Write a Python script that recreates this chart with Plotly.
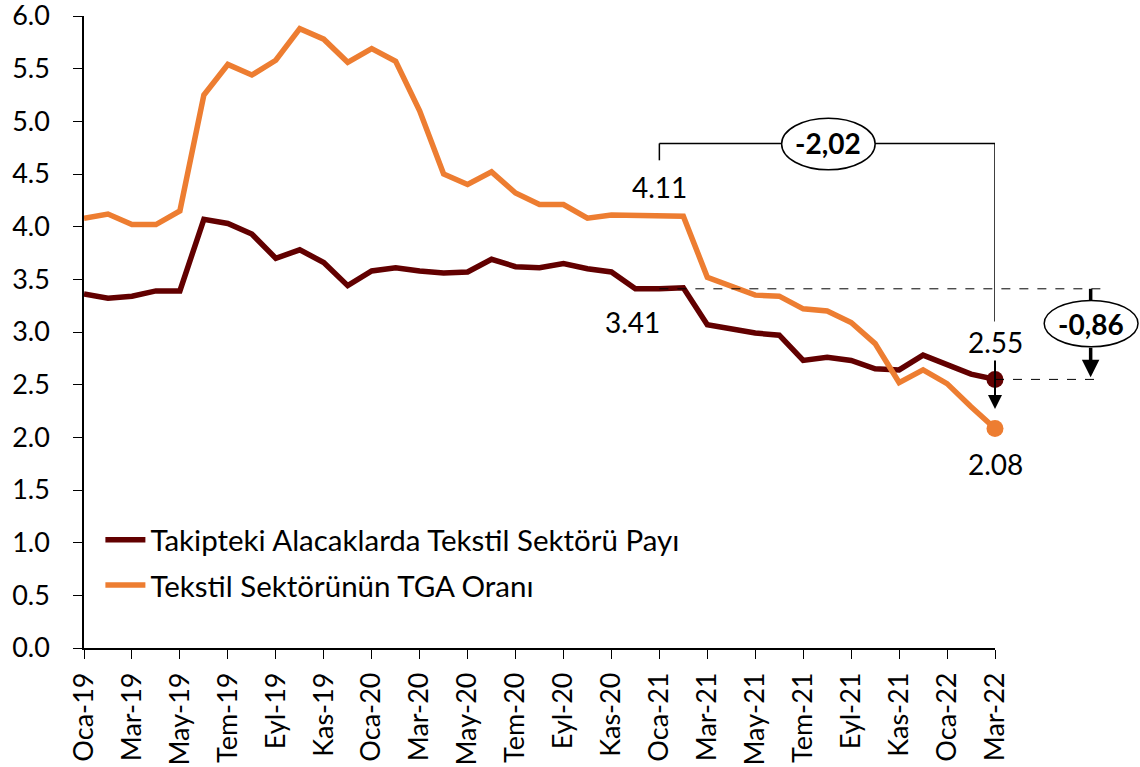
import plotly.graph_objects as go

months_tr = ["Oca", "Şub", "Mar", "Nis", "May", "Haz", "Tem", "Ağu", "Eyl", "Eki", "Kas", "Ara"]
categories = []
for yr in ["19", "20", "21", "22"]:
    for m in months_tr:
        categories.append(f"{m}-{yr}")
categories = categories[:39]  # Oca-19 .. Mar-22

takipteki_payi = [3.36, 3.32, 3.34, 3.39, 3.39, 4.07, 4.03, 3.93, 3.70, 3.78, 3.66, 3.44, 3.58, 3.61,
                  3.58, 3.56, 3.57, 3.69, 3.62, 3.61, 3.65, 3.60, 3.57, 3.41, 3.41, 3.42, 3.07, 3.03,
                  2.99, 2.97, 2.73, 2.76, 2.73, 2.65, 2.64, 2.78, 2.69, 2.60, 2.55]
tga_orani = [4.08, 4.12, 4.02, 4.02, 4.15, 5.25, 5.54, 5.44, 5.58, 5.88, 5.78, 5.56, 5.69, 5.57,
             5.10, 4.50, 4.40, 4.52, 4.32, 4.21, 4.21, 4.08, 4.11, 4.11, 4.106, 4.10, 3.52, 3.44,
             3.35, 3.34, 3.22, 3.20, 3.09, 2.89, 2.52, 2.64, 2.51, 2.29, 2.084]
tick_labels = categories[::2]
series_names = ["Takipteki Alacaklarda Tekstil Sektörü Payı", "Tekstil Sektörünün TGA Oranı"]

DARK = "#620000"
ORANGE = "#ED7D31"
FONT = "Lato"

fig = go.Figure()
fig.add_trace(go.Scatter(x=categories, y=takipteki_payi, mode="lines", name=series_names[0],
                         legendgroup="a", line=dict(color=DARK, width=5.5), cliponaxis=False))
fig.add_trace(go.Scatter(x=categories, y=tga_orani, mode="lines", name=series_names[1],
                         legendgroup="b", line=dict(color=ORANGE, width=5.5), cliponaxis=False))
# end markers
fig.add_trace(go.Scatter(x=[categories[-1]], y=[takipteki_payi[-1]], mode="markers",
                         marker=dict(color=DARK, size=17), showlegend=False, cliponaxis=False))
fig.add_trace(go.Scatter(x=[categories[-1]], y=[tga_orani[-1]], mode="markers",
                         marker=dict(color=ORANGE, size=17), showlegend=False, cliponaxis=False))

i_start = categories.index("Oca-21")
i_end = len(categories) - 1
x_start = categories[i_start]
x_end = categories[i_end]

shapes = []
line_k = dict(color="black", width=1.5)
# bracket for TGA change
shapes.append(dict(type="line", xref="x", yref="y", x0=i_start, x1=i_start, y0=4.63, y1=4.79, line=line_k))
shapes.append(dict(type="line", xref="x", yref="y", x0=i_start, x1=i_end, y0=4.79, y1=4.79, line=line_k))
shapes.append(dict(type="line", xref="x", yref="y", x0=i_end, x1=i_end, y0=4.79, y1=3.10, line=line_k))
shapes.append(dict(type="circle", xref="x", yref="y", x0=29.1, x1=33.0, y0=4.54, y1=5.03,
                   line=dict(color="black", width=1.5), fillcolor="white", layer="above"))
# dashed reference lines
xs_paper = i_start / i_end
shapes.append(dict(type="line", xref="paper", yref="y", x0=xs_paper, x1=1.117,
                   y0=takipteki_payi[i_start], y1=takipteki_payi[i_start],
                   line=dict(color="black", width=1, dash="dash")))
shapes.append(dict(type="line", xref="paper", yref="y", x0=1.0, x1=1.117,
                   y0=takipteki_payi[-1], y1=takipteki_payi[-1],
                   line=dict(color="black", width=1, dash="dash")))
# stub above the second ellipse
shapes.append(dict(type="line", xref="paper", yref="y", x0=1.105, x1=1.105, y0=3.41, y1=3.28,
                   line=dict(color="black", width=3.5)))
shapes.append(dict(type="circle", xref="paper", yref="y", x0=1.054, x1=1.157, y0=2.86, y1=3.30,
                   line=dict(color="black", width=1.5), fillcolor="white"))

annotations = []
lab_font = dict(family=FONT, size=28, color="black")
annotations.append(dict(x=x_start, y=tga_orani[i_start], text=f"{tga_orani[i_start]:.2f}",
                        showarrow=False, yshift=29, font=lab_font))
annotations.append(dict(x=x_start, y=takipteki_payi[i_start], text=f"{takipteki_payi[i_start]:.2f}",
                        showarrow=False, yshift=-33, xshift=-27, font=lab_font))
annotations.append(dict(x=x_end, y=takipteki_payi[-1], text=f"{takipteki_payi[-1]:.2f}",
                        showarrow=False, yshift=37, font=lab_font))
annotations.append(dict(x=x_end, y=tga_orani[-1], text=f"{tga_orani[-1]:.2f}",
                        showarrow=False, yshift=-36, font=lab_font))
# change labels
diff1 = tga_orani[-1] - tga_orani[i_start]
diff2 = takipteki_payi[-1] - takipteki_payi[i_start]
bold = dict(family=FONT, size=28, color="black")
annotations.append(dict(x=31.05, y=4.79, text="<b>" + f"{diff1:.2f}".replace(".", ",") + "</b>",
                        showarrow=False, font=bold, xanchor="center"))
annotations.append(dict(xref="paper", yref="y", x=1.1055, y=3.08, xanchor="center", yanchor="middle",
                        text="<b>" + f"{diff2:.2f}".replace(".", ",") + "</b>",
                        showarrow=False, font=bold))
# arrows
annotations.append(dict(x=x_end, y=2.27, ax=0, ay=-50, axref="pixel", ayref="pixel",
                        text="", showarrow=True, arrowhead=2, arrowsize=1.4, arrowwidth=2,
                        arrowcolor="black"))
annotations.append(dict(xref="paper", yref="y", x=1.105, y=2.57, ax=0, ay=-31,
                        text="", showarrow=True, arrowhead=2, arrowsize=1, arrowwidth=3.5,
                        arrowcolor="black"))

fig.update_layout(
    width=1140, height=767,
    margin=dict(l=84, r=145, t=16, b=119),
    plot_bgcolor="white", paper_bgcolor="white",
    font=dict(family=FONT, size=26, color="black"),
    showlegend=True,
    legend=dict(x=0.018, y=0.212, xanchor="left", yanchor="top", bgcolor="rgba(0,0,0,0)",
                font=dict(family=FONT, size=29.5, color="black"), itemwidth=40, tracegroupgap=4),
    shapes=shapes, annotations=annotations,
)
fig.update_xaxes(type="category", categoryorder="array", categoryarray=categories,
                 range=[0, len(categories) - 1], tickmode="array", tickvals=tick_labels,
                 ticktext=tick_labels, tickangle=-90, showline=True, linecolor="black",
                 linewidth=1.5, ticks="outside", ticklen=9, tickcolor="black", showgrid=False,
                 tickfont=dict(family=FONT, size=27, color="black"), zeroline=False,
                 automargin=False, ticklabelstandoff=3, ticklabeloverflow="allow")
fig.update_yaxes(range=[0, 6], dtick=0.5, tickformat=".1f", showline=True, linecolor="black",
                 linewidth=1.5, ticks="outside", ticklen=9, tickcolor="black", showgrid=False,
                 tickfont=dict(family=FONT, size=27, color="black"), zeroline=False,
                 automargin=False, ticklabelstandoff=18, ticklabeloverflow="allow")

fig.write_html("out.html", config={"displayModeBar": False},
               post_script="document.body.style.margin='0';document.body.style.overflow='hidden';")
